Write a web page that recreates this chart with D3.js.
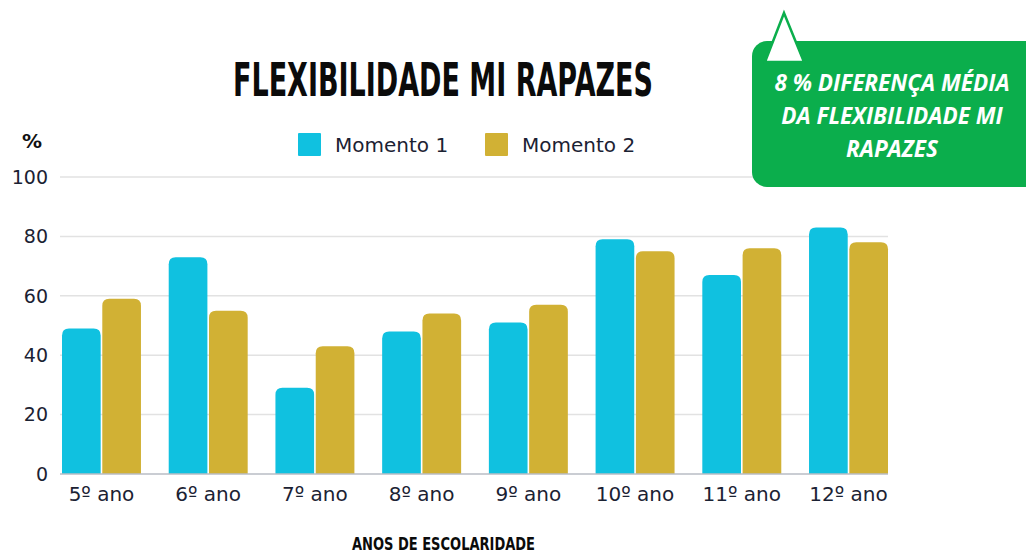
<!DOCTYPE html>
<html lang="en">
<head>
<meta charset="UTF-8">
<title>Flexibilidade MI Rapazes</title>
<script src="https://d3js.org/d3.v7.min.js"></script>
<style>
  body { margin: 0; background: #fff; }
  svg { display: block; }
  .tick-label { font-family: "DejaVu Sans", sans-serif; font-size: 19px; fill: #1b2233; }
  .x-label { font-family: "DejaVu Sans", sans-serif; font-size: 20px; fill: #1b2233; }
  .legend-text { font-family: "DejaVu Sans", sans-serif; font-size: 20px; fill: #1b2233; }
</style>
</head>
<body>
<script>
// data
const categories = ["5º ano", "6º ano", "7º ano", "8º ano", "9º ano", "10º ano", "11º ano", "12º ano"];
const seriesNames = ["Momento 1", "Momento 2"];
const momento1 = [49, 73, 29, 48, 51, 79, 67, 83];
const momento2 = [59, 55, 43, 54, 57, 75, 76, 78];
const yTicks = [0, 20, 40, 60, 80, 100];
const colors = ["#10c1e0", "#d1b134"];

const W = 1026, H = 553;
const svg = d3.select("body").append("svg").attr("width", W).attr("height", H);

const x0 = d3.scaleBand().domain(categories).range([62, 888]).paddingInner(0.26).paddingOuter(0);
const x1 = d3.scaleBand().domain(seriesNames).range([0, x0.bandwidth()]).paddingInner(0.04);
const y = d3.scaleLinear().domain([0, 100]).range([474, 177]);

// gridlines
svg.append("g").selectAll("line")
  .data(yTicks.filter(d => d > 0))
  .enter().append("line")
  .attr("x1", 60).attr("x2", 888)
  .attr("y1", d => y(d)).attr("y2", d => y(d))
  .attr("stroke", "#e2e2e2").attr("stroke-width", 1.5);

// y tick labels
svg.append("g").selectAll("text")
  .data(yTicks).enter().append("text")
  .attr("class", "tick-label")
  .attr("x", 48).attr("y", d => y(d))
  .attr("dy", "0.36em")
  .attr("text-anchor", "end")
  .text(d => d);

svg.append("text")
  .attr("x", 32).attr("y", 148)
  .attr("text-anchor", "middle")
  .style("font-family", "'DejaVu Sans', sans-serif")
  .style("font-weight", "bold")
  .style("font-size", "20px")
  .attr("fill", "#111")
  .text("%");

// rounded-top bar path
function barPath(x, yTop, w, h, r) {
  r = Math.min(r, h, w / 2);
  return `M${x},${yTop + h} V${yTop + r} Q${x},${yTop} ${x + r},${yTop} H${x + w - r} Q${x + w},${yTop} ${x + w},${yTop + r} V${yTop + h} Z`;
}

const rows = categories.map((c, i) => ({ cat: c, values: [momento1[i], momento2[i]] }));

const groups = svg.append("g").selectAll("g")
  .data(rows).enter().append("g")
  .attr("transform", d => `translate(${x0(d.cat)},0)`);

groups.selectAll("path")
  .data(d => d.values.map((v, j) => ({ v, s: seriesNames[j], j })))
  .enter().append("path")
  .attr("d", d => barPath(x1(d.s), y(d.v), x1.bandwidth(), y(0) - y(d.v), 7))
  .attr("fill", d => colors[d.j]);

// baseline
svg.append("line")
  .attr("x1", 60).attr("x2", 888)
  .attr("y1", y(0)).attr("y2", y(0))
  .attr("stroke", "#b9bcc4").attr("stroke-width", 1.5);

// x labels
svg.append("g").selectAll("text")
  .data(categories).enter().append("text")
  .attr("class", "x-label")
  .attr("x", d => x0(d) + x0.bandwidth() / 2)
  .attr("y", 501)
  .attr("text-anchor", "middle")
  .text(d => d);

// title
svg.append("text")
  .attr("x", 233).attr("y", 96)
  .attr("textLength", 420).attr("lengthAdjust", "spacingAndGlyphs")
  .style("font-family", "'DejaVu Sans', sans-serif")
  .style("font-weight", "bold")
  .style("font-size", "46px")
  .attr("fill", "#0b0b0b")
  .text("FLEXIBILIDADE MI RAPAZES");

// x axis title
svg.append("text")
  .attr("x", 352).attr("y", 550)
  .attr("textLength", 183).attr("lengthAdjust", "spacingAndGlyphs")
  .style("font-family", "'DejaVu Sans', sans-serif")
  .style("font-weight", "bold")
  .style("font-size", "17px")
  .attr("fill", "#0b0b0b")
  .text("ANOS DE ESCOLARIDADE");

// legend
const legendX = [298, 485];
const legend = svg.append("g").selectAll("g")
  .data(seriesNames).enter().append("g")
  .attr("transform", (d, i) => `translate(${legendX[i]},133)`);
legend.append("rect").attr("width", 23).attr("height", 23).attr("rx", 1)
  .attr("fill", (d, i) => colors[i]);
legend.append("text").attr("class", "legend-text")
  .attr("x", 37).attr("y", 19).text(d => d);

// green callout
const callout = svg.append("g");
callout.append("rect")
  .attr("x", 752).attr("y", 41).attr("width", 300).attr("height", 146)
  .attr("rx", 15).attr("fill", "#0bae4c");
callout.append("path")
  .attr("d", "M784,13 L804,62 L765,62 Z")
  .attr("fill", "#fff").attr("stroke", "#0bae4c").attr("stroke-width", 2.5)
  .attr("stroke-linejoin", "miter");
const calloutLines = ["8 % DIFERENÇA MÉDIA", "DA FLEXIBILIDADE MI", "RAPAZES"];
callout.selectAll("text.cl")
  .data(calloutLines).enter().append("text")
  .attr("class", "cl")
  .attr("x", 892).attr("y", (d, i) => 91 + i * 33)
  .attr("text-anchor", "middle")
  .style("font-family", "'Open Sans', sans-serif")
  .style("font-weight", "bold")
  .style("font-style", "italic")
  .style("font-size", "22.5px")
  .attr("fill", "#fff")
  .text(d => d);
</script>
</body>
</html>
